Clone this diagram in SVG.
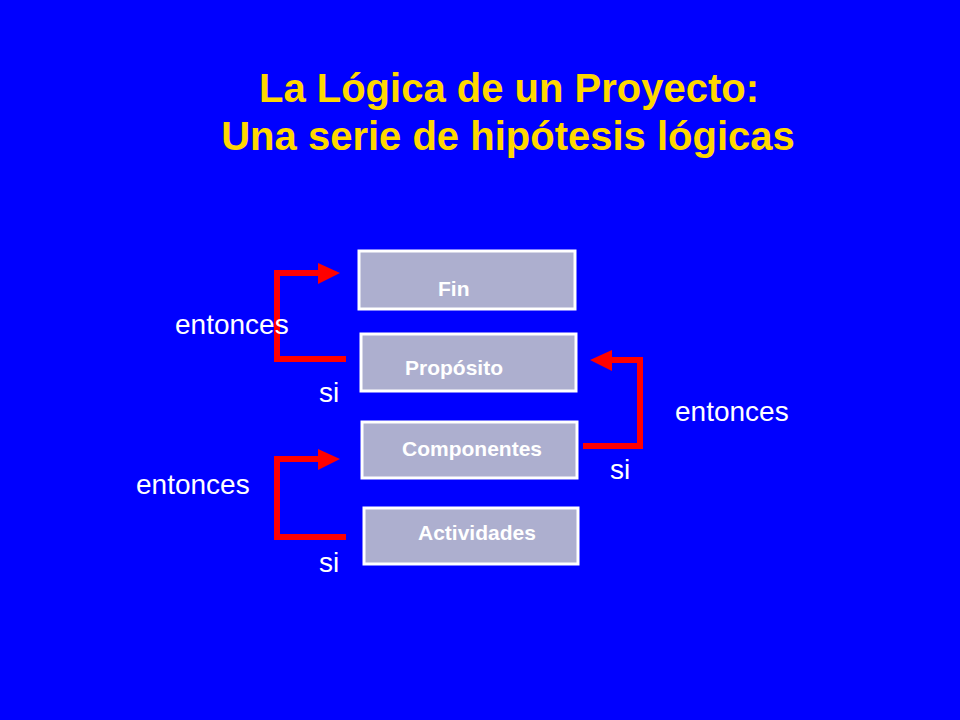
<svg xmlns="http://www.w3.org/2000/svg" width="960" height="720" viewBox="0 0 960 720">
<defs>
<style>
.box{fill:#ADAFCF;stroke:#fff;stroke-width:3}
.bt{font-family:"Liberation Sans",Arial,sans-serif;font-weight:bold;font-size:21px;fill:#fff}
.lb{font-family:"Liberation Sans",Arial,sans-serif;font-size:28px;fill:#fff}
.ln{fill:none;stroke:#F00;stroke-width:6}
.title{font-family:"Liberation Sans",Arial,sans-serif;font-weight:bold;font-size:40px;fill:#FFD700;text-anchor:middle}
</style>
</defs>
<rect width="960" height="720" fill="#0000FF"/>
<text class="title" x="509" y="102">La Lógica de un Proyecto:</text>
<text class="title" x="508" y="150">Una serie de hipótesis lógicas</text>
<g id="fin"><rect class="box" x="359" y="251" width="216" height="58"/><text class="bt" x="438" y="296">Fin</text></g>
<g id="proposito"><rect class="box" x="361" y="334" width="215" height="57"/><text class="bt" x="405" y="375">Propósito</text></g>
<g id="componentes"><rect class="box" x="362" y="422" width="215" height="56"/><text class="bt" x="402" y="456">Componentes</text></g>
<g id="actividades"><rect class="box" x="364" y="508" width="214" height="56"/><text class="bt" x="418" y="540">Actividades</text></g>
<g id="connectors">
<path class="ln" d="M346 359H277V273H322"/>
<polygon fill="#F00" points="318,263 340,273 318,284"/>
<path class="ln" d="M583 446H640V360H608"/>
<polygon fill="#F00" points="612,350 590,360 612,371"/>
<path class="ln" d="M346 537H277V459H322"/>
<polygon fill="#F00" points="318,449 340,459 318,470"/>
</g>
<g id="labels">
<text class="lb" x="175" y="334">entonces</text>
<text class="lb" x="319" y="402">si</text>
<text class="lb" x="675" y="421">entonces</text>
<text class="lb" x="610" y="479">si</text>
<text class="lb" x="136" y="494">entonces</text>
<text class="lb" x="319" y="572">si</text>
</g>
</svg>
